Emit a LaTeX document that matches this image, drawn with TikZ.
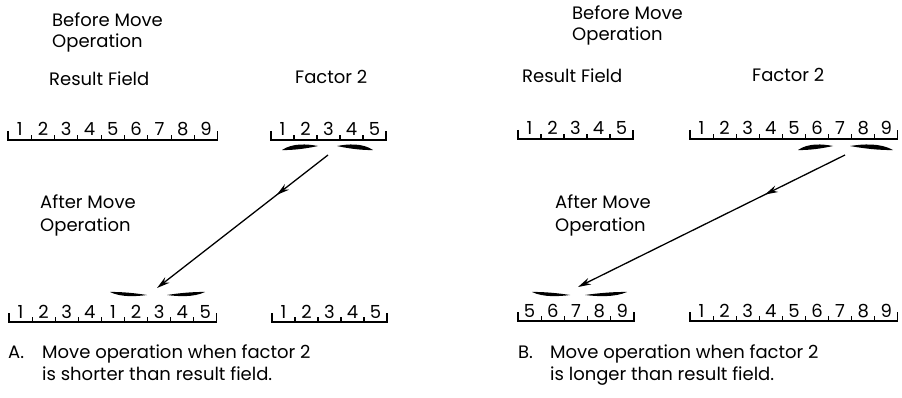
\documentclass[tikz,border=0pt]{standalone}
\usepackage{fontspec}
\setmainfont{Poppins}
\usetikzlibrary{arrows.meta,decorations.markings}

\tikzset{
  lbl/.style={anchor=base west, inner sep=0pt, font=\fontsize{18}{22}\selectfont},
  dig/.style={anchor=base, inner sep=0pt, font=\fontsize{18}{22}\selectfont},
  fieldline/.style={line width=1.1pt},
  movearrow/.style={line width=1.3pt, -{Stealth[length=13pt,width=7pt]},
    postaction=decorate,
    decoration={markings, mark=at position 0.3 with {\arrow{Stealth[length=13pt,width=7pt]}}}},
  bracefill/.style={fill=black},
}

% name, x0, line y, cell width, n, digits
\newcommand\drawfield[6]{%
  \foreach \d [count=\k] in {#6} {
    \node[dig] (#1\k) at ({#2+(\k-0.5)*#4},{#3-4}) {\d};
  }
  \draw[fieldline] ({#2},{#3-9}) -- ({#2},{#3}) -- ({#2+#5*#4},{#3}) -- ({#2+#5*#4},{#3-9});
  \foreach \k in {1,...,\numexpr#5-1\relax} {
    \draw[fieldline] ({#2+\k*#4},{#3}) -- ({#2+\k*#4},{#3-5});
  }
}

% outer x, inner x, outer y, signed offset d
\newcommand\halfbrace[4]{%
  \fill[bracefill] ({#1},{#3}) .. controls ({#1+0.3*(#2-#1)},{#3+#4*1.8}) and ({#1+0.7*(#2-#1)},{#3+#4*1.5}) .. ({#2},{#3+#4})
     .. controls ({#1+0.7*(#2-#1)},{#3+#4*0.4}) and ({#1+0.3*(#2-#1)},{#3-#4*0.1}) .. ({#1},{#3}) -- cycle;
}

\begin{document}
\begin{tikzpicture}[x=1pt,y=-1pt]
\useasboundingbox (0,0) rectangle (902,398);

% ---------------- Panel A ----------------
\node[lbl] (aBefore) at (52,27) {Before Move};
\node[lbl] (aBeforeOp) at (52,48) {Operation};
\node[lbl] (aResult) at (49,86) {Result Field};
\node[lbl] (aFactor) at (295,84) {Factor 2};

\drawfield{aTR}{8}{140}{23.3}{9}{1,2,3,4,5,6,7,8,9}
\drawfield{aTF}{271}{140}{23}{5}{1,2,3,4,5}

\halfbrace{282}{318}{150}{-4}
\halfbrace{373}{337}{150}{-4}

\node[lbl] (aAfter) at (40,209) {After Move};
\node[lbl] (aAfterOp) at (40,231) {Operation};

\halfbrace{110}{147}{292}{3}
\halfbrace{205}{167}{292}{3}

\drawfield{aBR}{9}{322}{23.1}{9}{1,2,3,4,1,2,3,4,5}
\drawfield{aBF}{272}{322}{23}{5}{1,2,3,4,5}

\coordinate (aS) at (328,155);
\coordinate (aE) at (157,288);
\draw[movearrow] (aS) -- (aE);

\node[lbl] (aCapL) at (8,358) {A.};
\node[lbl] (aCap1) at (42,358) {Move operation when factor 2};
\node[lbl] (aCap2) at (42,380) {is shorter than result field.};

% ---------------- Panel B ----------------
\node[lbl] (bBefore) at (572,20) {Before Move};
\node[lbl] (bBeforeOp) at (572,41) {Operation};
\node[lbl] (bResult) at (522,83) {Result Field};
\node[lbl] (bFactor) at (752,82) {Factor 2};

\drawfield{bTR}{518}{139}{23}{5}{1,2,3,4,5}
\drawfield{bTF}{690}{139}{23.1}{9}{1,2,3,4,5,6,7,8,9}

\halfbrace{798}{833}{150}{-4}
\halfbrace{893}{850}{150}{-4}

\node[lbl] (bAfter) at (555,208) {After Move};
\node[lbl] (bAfterOp) at (555,231) {Operation};

\halfbrace{532}{570}{292}{3}
\halfbrace{627}{585}{292}{3}

\drawfield{bBR}{518}{321}{23.2}{5}{5,6,7,8,9}
\drawfield{bBF}{690}{321}{23.1}{9}{1,2,3,4,5,6,7,8,9}

\coordinate (bS) at (845,155);
\coordinate (bE) at (578,287);
\draw[movearrow] (bS) -- (bE);

\node[lbl] (bCapL) at (518,358) {B.};
\node[lbl] (bCap1) at (550,358) {Move operation when factor 2};
\node[lbl] (bCap2) at (550,380) {is longer than result field.};
\end{tikzpicture}
\end{document}
